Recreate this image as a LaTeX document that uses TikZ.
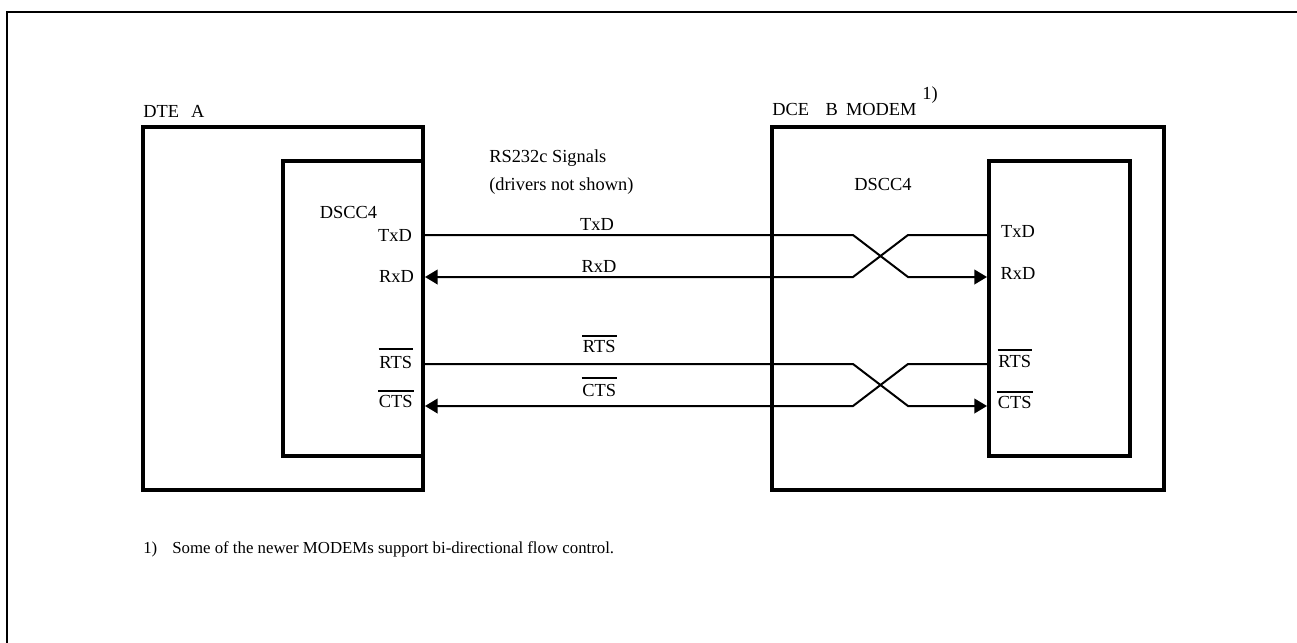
\documentclass[tikz,border=0pt]{standalone}
\usepackage{fontspec}
\setmainfont{Liberation Serif}
\usetikzlibrary{arrows.meta}
\newcommand{\ovl}[2]{\vbox{\hrule height 1.4pt\kern#1pt\hbox{\kern.5pt #2\kern1pt}}}
\tikzset{
  box/.style={draw,line width=3pt,inner sep=0pt},
  sig/.style={line width=1.5pt},
  lbl/.style={inner sep=0pt,anchor=base,font=\fontsize{13.8}{15}\selectfont},
  note/.style={inner sep=0pt,anchor=base west,font=\fontsize{12.6}{14}\selectfont}
}
\begin{document}
\begin{tikzpicture}[x=0.75pt,y=-0.75pt,>={Triangle[length=9.5pt,width=11pt]}]
\useasboundingbox (0,0) rectangle (1297,643);
% page frame
\coordinate (FB) at (7,643); \coordinate (FC) at (7,12); \coordinate (FR) at (1297,12);
\draw[line width=1.5pt] (FB)--(FC)--(FR);

\node[box,minimum width=210pt,minimum height=272.25pt](DTE) at (283,308.5){};
\node[box,minimum width=105pt,minimum height=220.9pt](ChipA) at (353,308.25){};
\node[box,minimum width=294pt,minimum height=272.25pt](DCE) at (968,308.5){};
\node[box,minimum width=105.4pt,minimum height=220.9pt](ChipB) at (1059.25,308.25){};

\node[lbl,anchor=base west](DTEl) at (143,117){DTE\hspace{9pt}A};
\node[lbl,anchor=base west](DCEl) at (772,115){DCE\hspace{12.5pt}B\hspace{6pt}MODEM};
\node[lbl](DCEn) at (930,99){1)};
\node[lbl](ChipAl) at (348.5,218){DSCC4};
\node[lbl](ChipBl) at (883,190){DSCC4};
\node[lbl,anchor=base west](Sigl) at (489,162){RS232c Signals};
\node[lbl,anchor=base west](Drvl) at (489,190){(drivers not shown)};

% pins left
\node[lbl](TxA) at (395,241){TxD};
\node[lbl](RxA) at (396.5,282){RxD};
\node[lbl](RtA) at (396,368){\ovl{4.5}{RTS}};
\node[lbl](CtA) at (396,407){\ovl{2.25}{CTS}};
% pins right
\node[lbl](TxB) at (1018,237){TxD};
\node[lbl](RxB) at (1018,279){RxD};
\node[lbl](RtB) at (1015,367){\ovl{3}{RTS}};
\node[lbl](CtB) at (1015,408){\ovl{2.25}{CTS}};
% wire labels
\node[lbl](TxW) at (597,230){TxD};
\node[lbl](RxW) at (599,272){RxD};
\node[lbl](RtW) at (599.5,352){\ovl{2.25}{RTS}};
\node[lbl](CtW) at (599.5,396){\ovl{3.75}{CTS}};

\coordinate (C1) at (853,235); \coordinate (C2) at (908,235);
\coordinate (C3) at (853,277); \coordinate (C4) at (908,277);
\coordinate (C5) at (853,364); \coordinate (C6) at (908,364);
\coordinate (C7) at (853,406); \coordinate (C8) at (908,406);
\draw[sig,->](ChipA.east|-C1)--(C1)--(C4)--(ChipB.west|-C4);
\draw[sig,<-](ChipA.east|-C3)--(C3)--(C2)--(ChipB.west|-C2);
\draw[sig,->](ChipA.east|-C5)--(C5)--(C8)--(ChipB.west|-C8);
\draw[sig,<-](ChipA.east|-C7)--(C7)--(C6)--(ChipB.west|-C6);

\node[note](Foot) at (143,553){1)\hspace{11.3pt}Some of the newer MODEMs support bi-directional flow control.};
\end{tikzpicture}
\end{document}
